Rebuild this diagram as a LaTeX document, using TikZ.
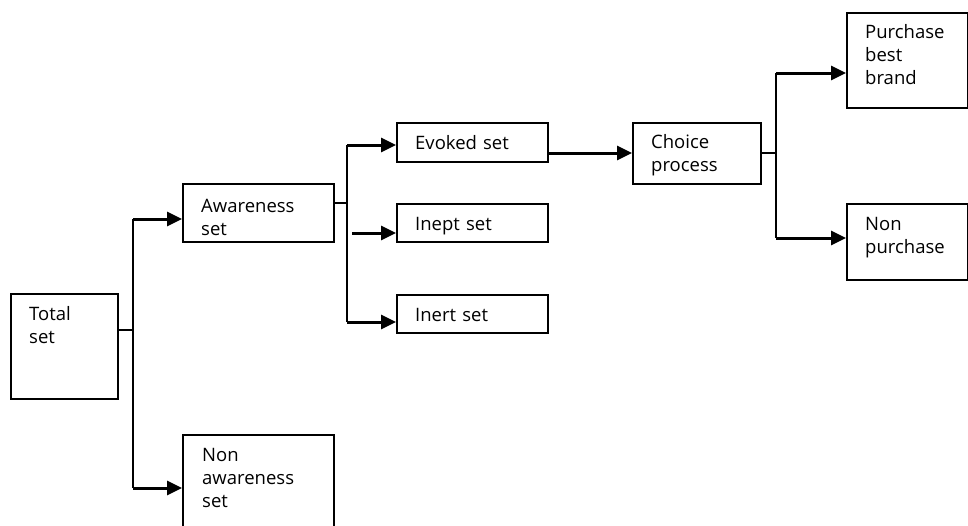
\documentclass[tikz,border=0pt]{standalone}
\usepackage{fontspec}
\setmainfont{Open Sans}
\usetikzlibrary{arrows.meta}

\tikzset{
  box/.style={draw=black, line width=1.6pt, rectangle, inner sep=0pt, anchor=north west},
  lbl/.style={anchor=base west, inner sep=0pt, text width=140pt, align=left,
              font=\fontsize{18.5}{23}\selectfont},
  link/.style={draw=black, line width=1.3pt},
  trunk/.style={draw=black, line width=1.9pt},
  arr/.style={draw=black, line width=3pt,
              -{Triangle[length=15pt 0 0, width=14pt 0 0]}},
}

\begin{document}
\begin{tikzpicture}[x=1pt, y=-1pt]
  \useasboundingbox (0,0) rectangle (968,525);
  \clip (0,0) rectangle (968,525);

  % boxes (top-left corner, size)
  \node[box, minimum width=107pt, minimum height=105pt] (total)    at (10,293)  {};
  \node[box, minimum width=151pt, minimum height=58pt]  (aware)    at (182,183) {};
  \node[box, minimum width=151pt, minimum height=110pt] (nonaware) at (182,434) {};
  \node[box, minimum width=151pt, minimum height=39pt]  (evoked)   at (396,122) {};
  \node[box, minimum width=151pt, minimum height=38pt]  (inept)    at (396,203) {};
  \node[box, minimum width=151pt, minimum height=38pt]  (inert)    at (396,294) {};
  \node[box, minimum width=128pt, minimum height=61pt]  (choice)   at (632,122) {};
  \node[box, minimum width=121pt, minimum height=95pt]  (purchase) at (846,12)  {};
  \node[box, minimum width=121pt, minimum height=76pt]  (nonpur)   at (846,203) {};

  % labels
  \node[lbl] (total-t)    at (29,320)  {Total\\set};
  \node[lbl] (aware-t)    at (201,212) {Awareness\\set};
  \node[lbl] (nonaware-t) at (202,461) {Non\\awareness\\set};
  \node[lbl] (evoked-t)   at (415,149) {Evoked set};
  \node[lbl] (inept-t)    at (415,230) {Inept set};
  \node[lbl] (inert-t)    at (415,321) {Inert set};
  \node[lbl] (choice-t)   at (651,148) {Choice\\process};
  \node[lbl] (purchase-t) at (865,38)  {Purchase\\best\\brand};
  \node[lbl] (nonpur-t)   at (865,230) {Non\\purchase};

  % branch points
  \coordinate (j1)  at (133,330);
  \coordinate (j1a) at (133,219);
  \coordinate (j1b) at (133,488);
  \coordinate (j2)  at (347,203);
  \coordinate (j2a) at (347,145);
  \coordinate (j2b) at (352,233);
  \coordinate (j2c) at (347,322);
  \coordinate (e1)  at (547,153);
  \coordinate (j3)  at (776,153);
  \coordinate (j3a) at (776,73);
  \coordinate (j3b) at (776,238);

  % total set -> awareness / non awareness
  \draw[link]  (total.east |- j1) -- (j1);
  \draw[trunk] (j1a) -- (j1b);
  \draw[arr]   (j1a) -- (aware.west |- j1a);
  \draw[arr]   (j1b) -- (nonaware.west |- j1b);

  % awareness set -> evoked / inept / inert
  \draw[link]  (aware.east |- j2) -- (j2);
  \draw[trunk] (j2a) -- (j2c);
  \draw[arr]   (j2a) -- (evoked.west |- j2a);
  \draw[arr]   (j2b) -- (inept.west |- j2b);
  \draw[arr]   (j2c) -- (inert.west |- j2c);

  % evoked set -> choice process
  \draw[arr]   (evoked.east |- e1) -- (choice.west |- e1);

  % choice process -> purchase / non purchase
  \draw[link]  (choice.east |- j3) -- (j3);
  \draw[trunk] (j3a) -- (j3b);
  \draw[arr]   (j3a) -- (purchase.west |- j3a);
  \draw[arr]   (j3b) -- (nonpur.west |- j3b);
\end{tikzpicture}
\end{document}
